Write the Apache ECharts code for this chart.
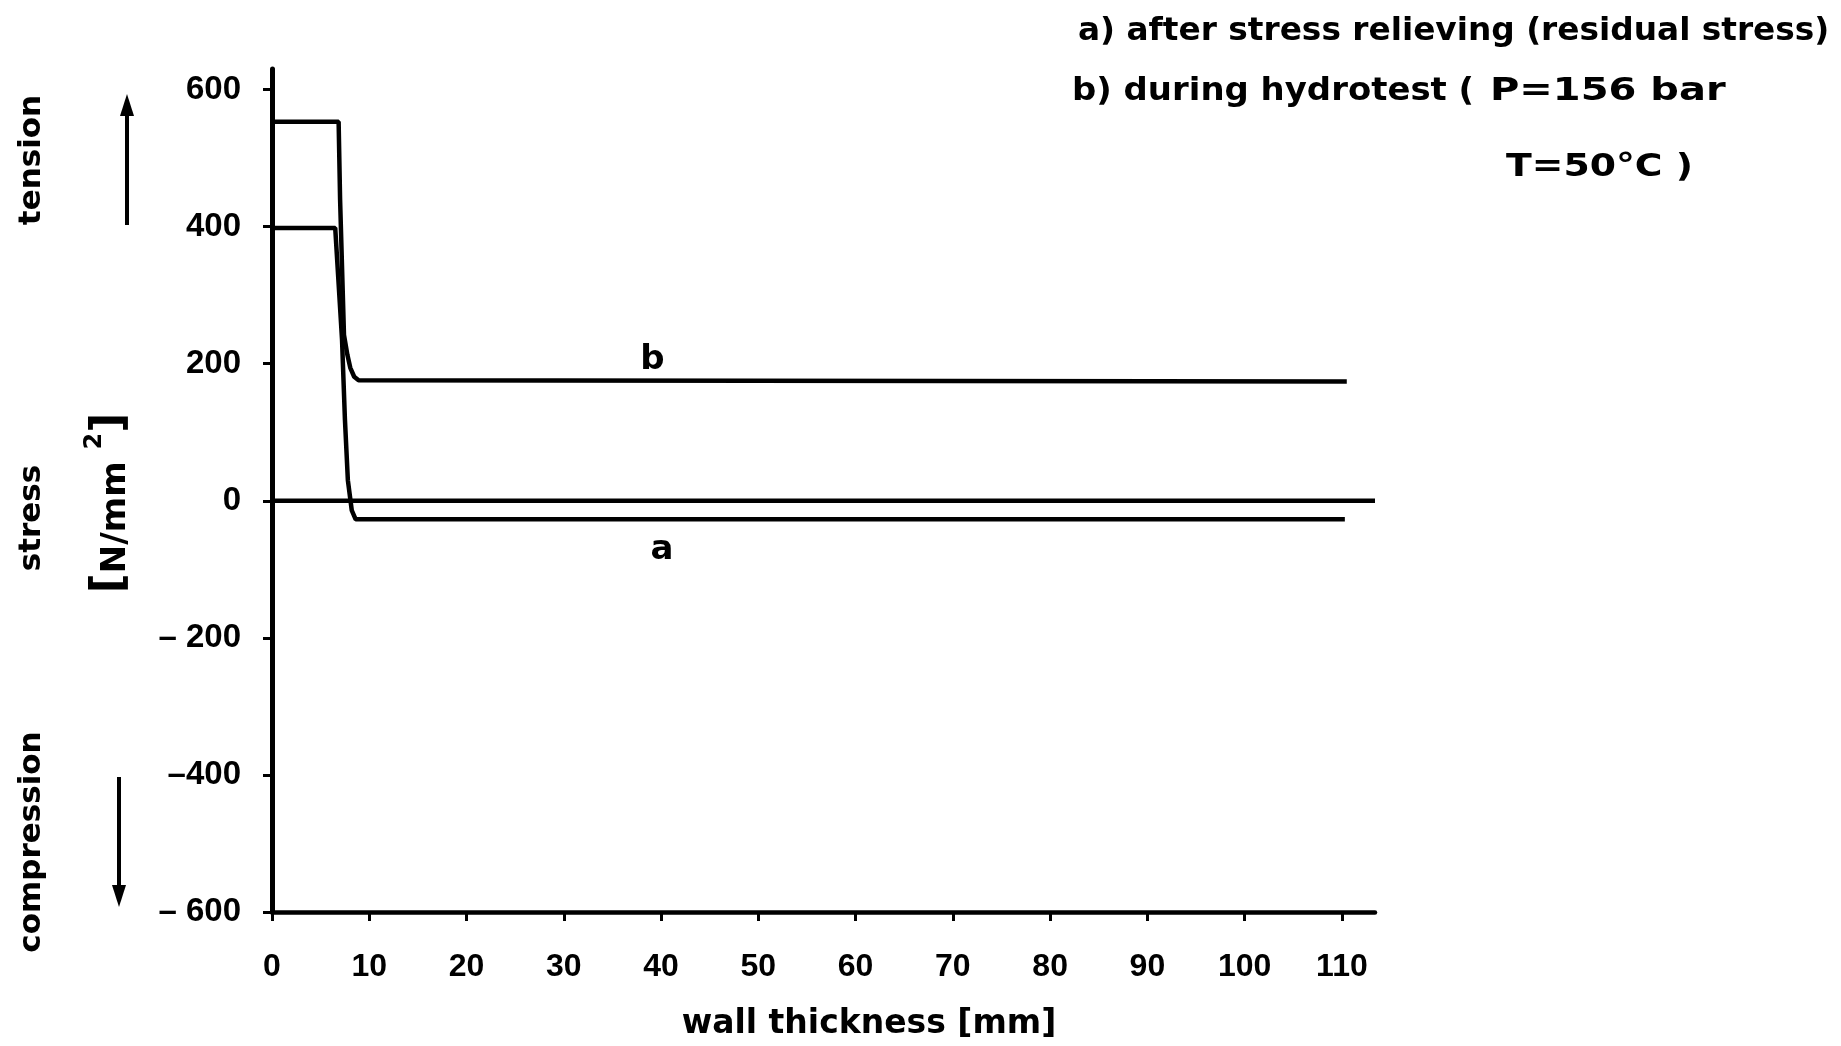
<!DOCTYPE html>
<html>
<head>
<meta charset="utf-8">
<script src="https://cdn.jsdelivr.net/npm/echarts@6/dist/echarts.min.js"></script>
<style>
  html, body { margin: 0; padding: 0; background: #fff; }
  #chart { width: 1841px; height: 1046px; }
</style>
</head>
<body>
<div id="chart"></div>
<script>
// Curve a: residual stress after stress relieving
const thicknessA = [0, 6.5, 7.2, 7.5, 7.8, 8.2, 8.6, 110.3];
const stressA    = [398, 398, 235, 118, 30, -14, -27, -27];

// Curve b: stress during hydrotest
const thicknessB = [0, 6.85, 7.0, 7.4, 7.75, 8.05, 8.45, 8.9, 110.5];
const stressB    = [553, 553, 440, 242, 213, 194, 181, 176, 174];

// Zero-stress reference line across the wall
const zeroLineX = [0, 113.4];
const zeroLineY = [0, 0];

// Curve captions placed next to each curve
const curveLabelText = ['a', 'b'];
const curveLabelX = [40.1, 39.1];
const curveLabelY = [-72, 205];

// Axis ticks and their labels
const xTicks = [0, 10, 20, 30, 40, 50, 60, 70, 80, 90, 100, 110];
const xTickLabels = ['0', '10', '20', '30', '40', '50', '60', '70', '80', '90', '100', '110'];
const yTicks = [-600, -400, -200, 0, 200, 400, 600];
const yTickLabels = ['\u2013 600', '\u2013400', '\u2013 200', '0', '200', '400', '600'];

const pairs = (xs, ys) => xs.map((x, i) => [x, ys[i]]);

const BOLD = 'DejaVu Sans';
const DIGITS = 'Liberation Sans';
const lineStyle = { color: '#000', width: 4.5 };

const chart = echarts.init(document.getElementById('chart'), null, { renderer: 'canvas' });

// Left-anchored text, optionally stretched horizontally
const txt = (x, y, text, size, scaleX) => ({
  type: 'text', x: x, y: y, scaleX: scaleX || 1,
  style: { text: text, fill: '#000', font: 'bold ' + size + 'px "DejaVu Sans"', align: 'left', verticalAlign: 'middle' }
});

// Text rotated to read upwards, centred on (x, y)
const vtxt = (x, y, text) => ({
  type: 'text', x: x, y: y, rotation: Math.PI / 2,
  style: { text: text, fill: '#000', font: 'bold 31px "DejaVu Sans"', align: 'center', verticalAlign: 'middle' }
});

const option = {
  animation: false,
  backgroundColor: '#fff',
  grid: { left: 272, right: 466, top: 69, bottom: 134, outerBoundsMode: 'none' },
  xAxis: {
    type: 'value',
    min: 0,
    max: 113.4,
    axisLine: { onZero: false, lineStyle: { color: '#000', width: 4.5, cap: 'round' } },
    axisTick: { customValues: xTicks, length: 9, lineStyle: { color: '#000', width: 3 } },
    axisLabel: {
      customValues: xTicks,
      formatter: v => xTickLabels[xTicks.indexOf(v)],
      margin: 39,
      color: '#000',
      fontFamily: DIGITS,
      fontWeight: 'bold',
      fontSize: 32
    },
    splitLine: { show: false }
  },
  yAxis: {
    type: 'value',
    min: -600,
    max: 630,
    axisLine: { onZero: false, lineStyle: { color: '#000', width: 5, cap: 'round' } },
    axisTick: { customValues: yTicks, length: 9, lineStyle: { color: '#000', width: 3 } },
    axisLabel: {
      customValues: yTicks,
      formatter: v => yTickLabels[yTicks.indexOf(v)],
      margin: 31,
      color: '#000',
      fontFamily: DIGITS,
      fontWeight: 'bold',
      fontSize: 33
    },
    splitLine: { show: false }
  },
  series: [
    {
      name: 'zero', type: 'line', data: pairs(zeroLineX, zeroLineY),
      showSymbol: false, lineStyle: lineStyle, silent: true
    },
    {
      name: 'a', type: 'line', data: pairs(thicknessA, stressA),
      showSymbol: false, lineStyle: lineStyle, silent: true
    },
    {
      name: 'b', type: 'line', data: pairs(thicknessB, stressB),
      showSymbol: false, lineStyle: lineStyle, silent: true
    },
    {
      name: 'captions', type: 'scatter', symbolSize: 0, silent: true,
      itemStyle: { opacity: 1 },
      data: curveLabelText.map((t, i) => ({ value: [curveLabelX[i], curveLabelY[i]], name: t })),
      label: {
        show: true, position: 'inside', formatter: p => p.name,
        color: '#000', fontFamily: BOLD, fontWeight: 'bold', fontSize: 34
      }
    }
  ],
  graphic: [
    // Legend text, top right
    txt(1078, 32, 'a) after stress relieving (residual stress)', 32, 1.024),
    txt(1072, 92, 'b) during hydrotest (', 32, 1.06),
    txt(1490, 92, 'P=156 bar', 32, 1.25),
    txt(1506, 168, 'T=50\u00b0C )', 32, 1.18),

    // Axis title below the wall-thickness scale
    {
      type: 'text', x: 869, y: 1024,
      style: { text: 'wall thickness [mm]', fill: '#000', font: 'bold 33px "DejaVu Sans"', align: 'center', verticalAlign: 'middle' }
    },

    // Vertical side captions
    vtxt(32, 160, 'tension'),
    vtxt(32, 518, 'stress'),
    vtxt(32, 842, 'compression'),
    {
      type: 'text', x: 108, y: 503, rotation: Math.PI / 2,
      style: {
        text: '{br|[}{n|N/mm }{s|2}{br|]}',
        fill: '#000', align: 'center', verticalAlign: 'middle',
        rich: {
          br: { fontFamily: BOLD, fontWeight: 'bold', fontSize: 44, lineHeight: 50, verticalAlign: 'bottom' },
          n: { fontFamily: BOLD, fontWeight: 'bold', fontSize: 34, lineHeight: 50, verticalAlign: 'bottom' },
          s: { fontFamily: BOLD, fontWeight: 'bold', fontSize: 24, lineHeight: 50, verticalAlign: 'top' }
        }
      }
    },

    // Direction arrows
    { type: 'line', shape: { x1: 127, y1: 225, x2: 127, y2: 110 }, style: { stroke: '#000', lineWidth: 4 } },
    { type: 'polygon', shape: { points: [[127, 94], [120, 116], [134, 116]] }, style: { fill: '#000' } },
    { type: 'line', shape: { x1: 119, y1: 777, x2: 119, y2: 890 }, style: { stroke: '#000', lineWidth: 4 } },
    { type: 'polygon', shape: { points: [[119, 907], [112, 885], [126, 885]] }, style: { fill: '#000' } }
  ]
};

chart.setOption(option);
</script>
</body>
</html>
